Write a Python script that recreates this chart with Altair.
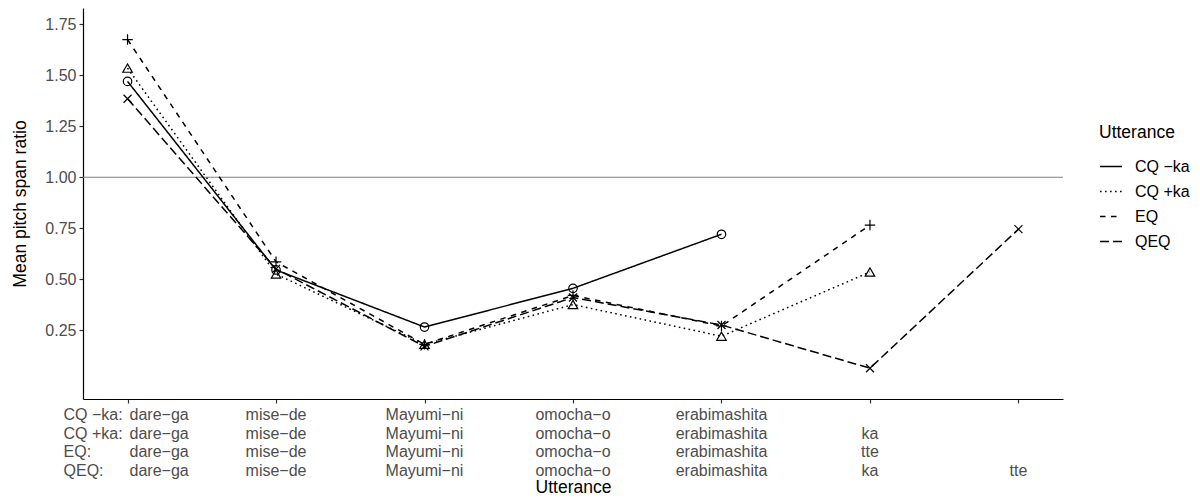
import altair as alt
import pandas as pd

# ---- data ----
series_names = ["CQ −ka", "CQ +ka", "EQ", "QEQ"]
cq_minus_ka = [1.47, 0.545, 0.265, 0.455, 0.72]
cq_plus_ka = [1.535, 0.525, 0.18, 0.375, 0.22, 0.535]
eq_values = [1.675, 0.585, 0.18, 0.42, 0.27, 0.765]
qeq_values = [1.385, 0.55, 0.17, 0.41, 0.275, 0.063, 0.745]
y_ticks = [0.25, 0.50, 0.75, 1.00, 1.25, 1.50, 1.75]
x_ticks = [1, 2, 3, 4, 5, 6, 7]
ref_value = [1.0]
row_prefix = ["CQ −ka:", "CQ +ka:", "EQ:", "QEQ:"]
base_words = ["dare−ga", "mise−de", "Mayumi−ni", "omocha−o", "erabimashita"]
row_words = [
    base_words,
    base_words + ["ka"],
    base_words + ["tte"],
    base_words + ["ka", "tte"],
]

# ---- tables ----
recs = []
for name, vals in zip(series_names, [cq_minus_ka, cq_plus_ka, eq_values, qeq_values]):
    for i, v in enumerate(vals):
        recs.append({"pos": i + 1, "ratio": v, "series": name})
df = pd.DataFrame(recs)

FONT = "Liberation Sans"
TICK_FS = 16
TITLE_FS = 17.5
ROW0 = 407
ROW_STEP = 18.6

xscale = alt.Scale(domain=[0.7, 7.3], nice=False, zero=False)
yscale = alt.Scale(domain=[-0.088, 1.83], nice=False, zero=False)

dash_scale = alt.Scale(domain=series_names,
                       range=[[1, 0], [1.6, 3.4], [5.5, 5.5], [9, 4]])
marker_shapes = ["circle", "triangle-up",
                 "M-1,0L1,0M0,-1L0,1",
                 "M-0.8,-0.8L0.8,0.8M-0.8,0.8L0.8,-0.8"]
marker_sizes = [72, 90, 110, 100]

base = alt.Chart(df)

lines = base.mark_line(color="black", strokeWidth=1.5).encode(
    x=alt.X("pos:Q", scale=xscale,
            axis=alt.Axis(values=x_ticks, labels=False, title="Utterance",
                          titlePadding=88.5, titleBaseline="alphabetic",
                          titleFontSize=TITLE_FS,
                          titleFontWeight="normal", titleColor="black",
                          titleFont=FONT, grid=False, tickSize=4,
                          tickColor="#333333", domainColor="black",
                          domainWidth=1.2, tickWidth=1.2)),
    y=alt.Y("ratio:Q", scale=yscale,
            axis=alt.Axis(values=y_ticks, format=".2f", title="Mean pitch span ratio",
                          titleFontSize=TITLE_FS, titleFontWeight="normal",
                          titleColor="black", titleFont=FONT, titlePadding=15,
                          labelFontSize=TICK_FS, labelColor="#4d4d4d", labelFont=FONT,
                          labelPadding=3, grid=False, tickSize=4,
                          tickColor="#333333", domainColor="black",
                          domainWidth=1.2, tickWidth=1.2)),
    strokeDash=alt.StrokeDash("series:N", scale=dash_scale,
                              legend=alt.Legend(title="Utterance", orient="none",
                                                legendX=1016, legendY=116,
                                                symbolType="stroke", symbolSize=484,
                                                symbolStrokeWidth=1.5,
                                                symbolStrokeColor="black",
                                                labelFontSize=TICK_FS, labelFont=FONT,
                                                labelColor="black", labelOffset=12,
                                                titleFontSize=TITLE_FS, titleFont=FONT,
                                                titleFontWeight="normal",
                                                titleColor="black", titlePadding=13,
                                                rowPadding=5)),
    detail="series:N",
)

hline = alt.Chart(pd.DataFrame({"v": ref_value})).mark_rule(
    color="#7f7f7f", strokeWidth=1.1).encode(y=alt.Y("v:Q", scale=yscale))

layers = [hline, lines]

for name, shp, sz in zip(series_names, marker_shapes, marker_sizes):
    layers.append(
        base.transform_filter(alt.datum.series == name).mark_point(
            shape=shp, size=sz, color="black", filled=False, strokeWidth=1.2,
            opacity=1
        ).encode(x=alt.X("pos:Q", scale=xscale), y=alt.Y("ratio:Q", scale=yscale))
    )

# x tick labels as rows of text under the axis
for r, words in enumerate(row_words):
    wdf = pd.DataFrame({"pos": list(range(1, len(words) + 1)), "word": words})
    first = alt.Chart(wdf).transform_filter("datum.pos == 1").mark_text(
        align="left", baseline="middle", dx=2, fontSize=TICK_FS, font=FONT,
        color="#4d4d4d").encode(x=alt.X("pos:Q", scale=xscale),
                                y=alt.value(ROW0 + ROW_STEP * r), text="word:N")
    rest = alt.Chart(wdf).transform_filter("datum.pos > 1").mark_text(
        align="center", baseline="middle", fontSize=TICK_FS, font=FONT,
        color="#4d4d4d").encode(x=alt.X("pos:Q", scale=xscale),
                                y=alt.value(ROW0 + ROW_STEP * r), text="word:N")
    pref = alt.Chart(pd.DataFrame({"pos": [1], "p": [row_prefix[r]]})).mark_text(
        align="left", baseline="middle", dx=-64, fontSize=TICK_FS, font=FONT,
        color="#4d4d4d").encode(x=alt.X("pos:Q", scale=xscale),
                                y=alt.value(ROW0 + ROW_STEP * r), text="p:N")
    layers += [first, rest, pref]

chart = alt.layer(*layers).properties(
    width=980, height=391,
    background="white",
    autosize=alt.AutoSizeParams(type="none"),
    padding={"left": 75, "top": 0, "right": 129, "bottom": 97},
).configure_view(strokeWidth=0, stroke="transparent")

chart.save("out.html", embed_options={"renderer": "svg", "actions": False})
